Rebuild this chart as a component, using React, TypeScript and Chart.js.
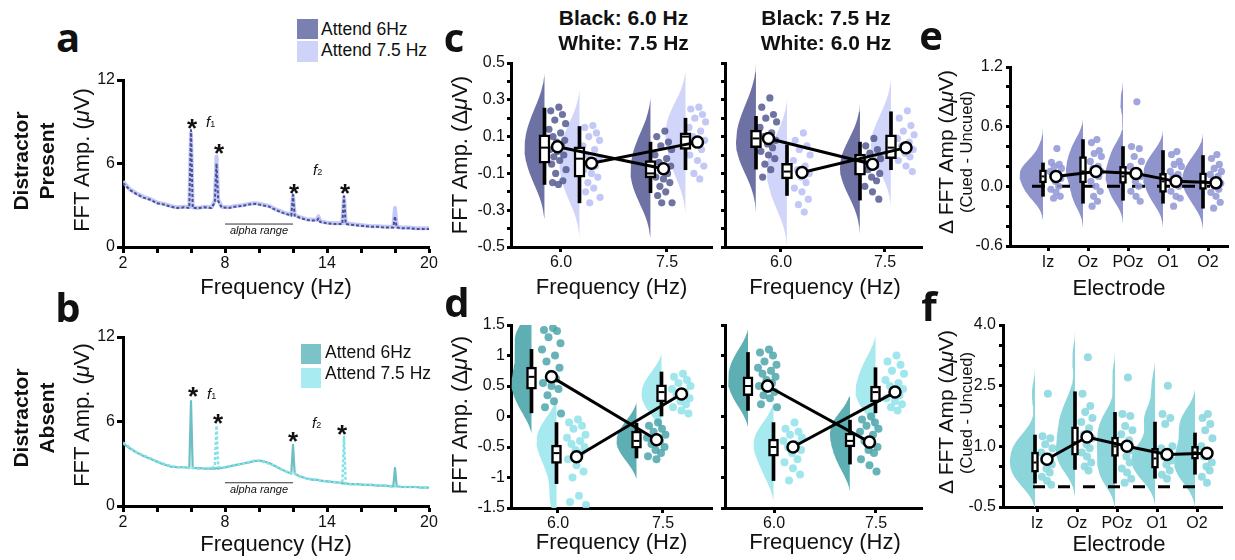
import React, { useEffect, useRef } from 'react';
import { Chart, registerables } from 'chart.js';

Chart.register(...registerables);

const FONT = '"Liberation Sans", Arial, Helvetica, sans-serif';
const LETTER_FONT = '"Open Sans", "Liberation Sans", sans-serif';
const INK = '#111';

// ---------------- Panels a / b : spectra ----------------
const SPEC_FREQ = [2, 2.4, 2.8, 3.2, 3.6, 4.0, 4.4, 4.8, 5.2, 5.6, 5.9, 6.0, 6.1, 6.4, 6.8, 7.2, 7.4, 7.5, 7.6, 7.8, 8.2, 8.6, 9.0, 9.4, 9.8, 10.2, 10.6, 11.0, 11.4, 11.8, 11.9, 12.0, 12.1, 12.4, 12.8, 13.2, 13.4, 13.5, 13.6, 14.0, 14.4, 14.8, 14.9, 15.0, 15.1, 15.4, 15.8, 16.2, 16.6, 17.0, 17.4, 17.8, 17.9, 18.0, 18.1, 18.4, 18.8, 19.2, 19.6, 20.0];
const A_ATTEND_6 = [4.6, 4.1, 3.8, 3.55, 3.4, 3.15, 3.05, 2.9, 2.8, 2.85, 2.8, 8.4, 2.8, 2.8, 2.85, 2.8, 3.2, 6.0, 3.3, 2.85, 2.8, 2.9, 2.95, 3.05, 3.1, 3.0, 2.9, 2.65, 2.45, 2.3, 2.25, 3.75, 2.25, 2.1, 1.95, 1.9, 1.9, 2.05, 1.8, 1.7, 1.65, 1.65, 1.65, 3.65, 1.65, 1.6, 1.55, 1.5, 1.45, 1.45, 1.4, 1.4, 1.4, 2.2, 1.4, 1.35, 1.35, 1.3, 1.3, 1.3];
const A_ATTEND_75 = [4.7, 4.15, 3.85, 3.6, 3.45, 3.2, 3.1, 2.95, 2.85, 2.9, 2.85, 8.2, 2.85, 2.8, 2.9, 2.85, 3.3, 6.5, 3.4, 2.9, 2.85, 2.95, 3.0, 3.1, 3.15, 3.05, 2.95, 2.7, 2.5, 2.35, 2.3, 3.7, 2.3, 2.15, 2.0, 1.95, 1.95, 2.2, 1.85, 1.75, 1.7, 1.7, 1.7, 3.6, 1.7, 1.65, 1.6, 1.55, 1.5, 1.5, 1.45, 1.45, 1.45, 2.8, 1.45, 1.4, 1.4, 1.35, 1.35, 1.35];
const B_ATTEND_6 = [4.45, 4.1, 3.8, 3.55, 3.35, 3.15, 2.95, 2.8, 2.75, 2.75, 2.7, 7.45, 2.7, 2.7, 2.65, 2.65, 2.65, 2.7, 2.65, 2.7, 2.8, 2.9, 3.0, 3.1, 3.2, 3.2, 3.05, 2.8, 2.55, 2.35, 2.3, 4.35, 2.3, 2.1, 1.95, 1.85, 1.85, 1.85, 1.8, 1.75, 1.7, 1.65, 1.6, 1.6, 1.6, 1.55, 1.55, 1.5, 1.5, 1.45, 1.45, 1.4, 1.4, 2.7, 1.4, 1.35, 1.35, 1.35, 1.3, 1.3];
const B_ATTEND_75 = [4.5, 4.15, 3.8, 3.6, 3.4, 3.15, 3.0, 2.85, 2.75, 2.75, 2.7, 2.75, 2.7, 2.65, 2.65, 2.7, 2.8, 5.7, 2.8, 2.7, 2.8, 2.9, 3.0, 3.1, 3.25, 3.15, 3.0, 2.8, 2.55, 2.35, 2.3, 2.3, 2.3, 2.1, 1.95, 1.9, 1.85, 1.85, 1.8, 1.75, 1.7, 1.65, 1.65, 4.9, 1.6, 1.55, 1.55, 1.5, 1.5, 1.45, 1.45, 1.4, 1.4, 1.4, 1.4, 1.35, 1.35, 1.35, 1.3, 1.3];
const ALPHA_RANGE_HZ = [8, 12];
const ALPHA_BAR_LEVEL = 1.65;
const SPEC_X_TICKS = [2, 4, 6, 8, 10, 12, 14, 16, 18, 20];
const SPEC_X_LABELED = [2, 8, 14, 20];
const SPEC_Y_TICKS = [0, 6, 12];

// ---------------- Panels c / d : rainclouds per frequency ----------------
const FREQ_TICKS = [6.0, 7.5];
const C_Y_TICKS = [-0.5, -0.4, -0.3, -0.2, -0.1, 0, 0.1, 0.2, 0.3, 0.4, 0.5];
const C_Y_LABELED = [-0.5, -0.3, -0.1, 0.1, 0.3, 0.5];
const D_Y_TICKS = [-1.5, -1, -0.5, 0, 0.5, 1, 1.5];

// box rows: [whisker low, q1, median, q3, whisker high]
const C1_DARK_60 = [0.26, 0.24, 0.22, 0.19, 0.17, 0.14, 0.12, 0.1, 0.08, 0.07, 0.05, 0.03, 0.02, 0.0, -0.01, -0.03, -0.05, -0.08, -0.1, -0.14, -0.15, -0.16];
const C1_DARK_75 = [0.13, 0.1, 0.07, 0.05, 0.03, 0.0, -0.02, -0.04, -0.06, -0.08, -0.1, -0.12, -0.13, -0.15, -0.17, -0.2, -0.22, -0.26, -0.26];
const C1_LIGHT_60 = [0.16, 0.15, 0.12, 0.1, 0.08, 0.05, 0.03, 0.0, -0.02, -0.04, -0.06, -0.08, -0.1, -0.12, -0.15, -0.18, -0.2, -0.23, -0.26];
const C1_LIGHT_75 = [0.26, 0.25, 0.22, 0.2, 0.18, 0.15, 0.13, 0.1, 0.08, 0.06, 0.03, 0.0, -0.03, -0.06, -0.1, -0.13];
const C1_DARK_BOX = [[-0.16, -0.045, 0.04, 0.11, 0.255], [-0.205, -0.125, -0.1, -0.03, 0.07]];
const C1_LIGHT_BOX = [[-0.26, -0.12, -0.02, 0.045, 0.155], [-0.08, 0.03, 0.1, 0.12, 0.2]];
const C1_DARK_MEAN = [0.045, -0.075];
const C1_LIGHT_MEAN = [-0.045, 0.07];

const C2_DARK_60 = [0.31, 0.26, 0.22, 0.2, 0.18, 0.15, 0.12, 0.1, 0.08, 0.06, 0.04, 0.02, 0.0, -0.02, -0.05, -0.08, -0.12];
const C2_DARK_75 = [0.09, 0.05, 0.03, 0.01, -0.02, -0.04, -0.06, -0.08, -0.1, -0.12, -0.14, -0.17, -0.2, -0.24];
const C2_LIGHT_60 = [0.12, 0.08, 0.05, 0.03, 0.0, -0.03, -0.06, -0.08, -0.1, -0.12, -0.15, -0.18, -0.2, -0.24, -0.27, -0.31];
const C2_LIGHT_75 = [0.24, 0.2, 0.16, 0.13, 0.11, 0.09, 0.07, 0.05, 0.03, 0.01, -0.01, -0.03, -0.06, -0.09];
const C2_DARK_BOX = [[-0.077, 0.04, 0.09, 0.135, 0.21], [-0.245, -0.11, -0.03, 0.005, 0.07]];
const C2_LIGHT_BOX = [[-0.22, -0.13, -0.09, -0.045, 0.055], [-0.08, -0.02, 0.04, 0.11, 0.235]];
const C2_DARK_MEAN = [0.09, -0.05];
const C2_LIGHT_MEAN = [-0.095, 0.04];

const D1_DARK_60 = [1.45, 1.42, 1.4, 1.3, 1.2, 1.1, 1.0, 0.9, 0.8, 0.7, 0.62, 0.55, 0.5, 0.45, 0.35, 0.25, 0.15, 0.05];
const D1_DARK_75 = [-0.1, -0.15, -0.2, -0.25, -0.3, -0.35, -0.4, -0.45, -0.5, -0.55, -0.6, -0.65, -0.7];
const D1_LIGHT_60 = [-0.05, -0.1, -0.15, -0.2, -0.3, -0.35, -0.4, -0.45, -0.5, -0.55, -0.6, -0.7, -0.8, -0.9, -1.0, -1.3, -1.4, -1.45];
const D1_LIGHT_75 = [0.7, 0.65, 0.6, 0.55, 0.5, 0.45, 0.4, 0.35, 0.3, 0.25, 0.2, 0.15, 0.1, 0.05];
const D1_DARK_BOX = [[0.06, 0.45, 0.65, 0.81, 1.1], [-0.68, -0.52, -0.4, -0.24, -0.11]];
const D1_LIGHT_BOX = [[-1.1, -0.77, -0.6, -0.47, -0.1], [0.0, 0.24, 0.4, 0.52, 0.73]];
const D1_DARK_MEAN = [0.65, -0.38];
const D1_LIGHT_MEAN = [-0.66, 0.37];

const D2_DARK_60 = [1.1, 1.05, 1.0, 0.9, 0.85, 0.8, 0.75, 0.7, 0.65, 0.6, 0.55, 0.5, 0.45, 0.4, 0.35, 0.3, 0.2, 0.15];
const D2_DARK_75 = [0.0, -0.05, -0.1, -0.15, -0.2, -0.25, -0.3, -0.4, -0.5, -0.55, -0.6, -0.7, -0.8, -0.9];
const D2_LIGHT_60 = [-0.1, -0.2, -0.25, -0.3, -0.35, -0.4, -0.45, -0.5, -0.55, -0.6, -0.7, -0.75, -0.85, -0.95, -1.05];
const D2_LIGHT_75 = [1.0, 0.9, 0.85, 0.75, 0.7, 0.6, 0.55, 0.5, 0.45, 0.4, 0.35, 0.3, 0.25, 0.2, 0.15, 0.1];
const D2_DARK_BOX = [[0.1, 0.34, 0.5, 0.65, 1.05], [-0.78, -0.5, -0.4, -0.27, -0.06]];
const D2_LIGHT_BOX = [[-1.05, -0.65, -0.5, -0.37, -0.1], [0.06, 0.24, 0.4, 0.5, 0.8]];
const D2_DARK_MEAN = [0.5, -0.42];
const D2_LIGHT_MEAN = [-0.5, 0.4];

// ---------------- Panels e / f : rainclouds per electrode ----------------
const ELECTRODES = ['Iz', 'Oz', 'POz', 'O1', 'O2'];
const E_Y_TICKS = [-0.6, -0.4, -0.2, 0, 0.2, 0.4, 0.6, 0.8, 1.0, 1.2];
const E_Y_LABELED = [-0.6, 0, 0.6, 1.2];
const F_Y_TICKS = [-0.5, 0, 0.5, 1, 1.5, 2, 2.5, 3, 3.5, 4];
const F_Y_LABELED = [-0.5, 1, 2.5, 4];

const E_IZ = [0.38, 0.24, 0.22, 0.2, 0.18, 0.15, 0.12, 0.1, 0.08, 0.05, 0.0, -0.03, -0.06, -0.1, -0.12];
const E_OZ = [0.47, 0.44, 0.36, 0.33, 0.3, 0.25, 0.2, 0.18, 0.15, 0.12, 0.1, 0.05, 0.0, -0.05, -0.1, -0.15, -0.2];
const E_POZ = [0.85, 0.4, 0.38, 0.3, 0.25, 0.2, 0.15, 0.12, 0.1, 0.05, 0.0, -0.05, -0.1, -0.15];
const E_O1 = [0.35, 0.32, 0.25, 0.22, 0.2, 0.15, 0.12, 0.1, 0.06, 0.03, 0.0, -0.05, -0.1, -0.12, -0.2];
const E_O2 = [0.32, 0.28, 0.22, 0.18, 0.15, 0.12, 0.1, 0.06, 0.03, 0.0, -0.03, -0.06, -0.1, -0.16, -0.22];
const E_BOX = [[-0.1, 0.035, 0.1, 0.165, 0.235], [-0.17, 0.035, 0.15, 0.3, 0.47], [-0.14, 0.03, 0.1, 0.2, 0.4], [-0.17, -0.06, 0.05, 0.13, 0.36], [-0.22, -0.03, 0.05, 0.135, 0.31]];
const E_MEAN = [0.1, 0.15, 0.13, 0.05, 0.035];

const F_IZ = [2.3, 1.25, 1.2, 1.05, 0.95, 0.85, 0.75, 0.65, 0.55, 0.45, 0.35, 0.25, 0.15, 0.05];
const F_OZ = [3.2, 2.3, 2.0, 1.85, 1.7, 1.6, 1.45, 1.3, 1.2, 1.05, 0.95, 0.85, 0.75, 0.6, 0.5, 0.4];
const F_POZ = [2.7, 1.8, 1.75, 1.5, 1.4, 1.3, 1.15, 1.0, 0.9, 0.75, 0.6, 0.45, 0.35, 0.2, 0.1];
const F_O1 = [2.5, 1.8, 1.7, 1.55, 1.0, 0.95, 0.85, 0.75, 0.65, 0.55, 0.4, 0.3, 0.2];
const F_O2 = [1.8, 1.7, 1.55, 1.4, 1.2, 1.0, 0.85, 0.75, 0.6, 0.5, 0.4, 0.25, 0.1];
const F_BOX = [[0.09, 0.36, 0.6, 0.86, 1.28], [0.43, 0.78, 1.1, 1.48, 2.35], [0.09, 0.75, 1.0, 1.23, 1.84], [0.21, 0.46, 0.7, 0.95, 1.6], [0.31, 0.68, 0.85, 1.0, 1.33]];
const F_MEAN = [0.68, 1.23, 1.0, 0.8, 0.83];
const ZERO_LINE_SPAN_E = [-0.4, 4.05];
const ZERO_LINE_SPAN_F = [-0.1, 4.1];

// deterministic horizontal scatter pattern for the dots (layout only)
const JITTER = [0.15, -0.75, 0.55, -0.3, 0.9, -0.95, 0.35, -0.5, 0.8, -0.1, 0.45, -0.85, 0.0, 0.7, -0.4, 0.25, -0.65, 0.95, -0.2, 0.6, -0.55, 0.1, -0.9, 0.4];

// ---------------- layout ----------------
type Box = { l: number; t: number; r: number; b: number };
const YW = 60, XH = 40, PT = 14, PR = 16;

const has = (arr: number[], v: number) => arr.some((a) => Math.abs(a - v) < 1e-6);

function yAxis(min: number, max: number, ticks: number[], fmt: (v: number) => string, tickLen: number, pad: number) {
  return {
    type: 'linear', min, max,
    afterFit: (s: any) => { s.width = YW; },
    afterBuildTicks: (s: any) => { s.ticks = ticks.map((v) => ({ value: v })); },
    ticks: { autoSkip: false, callback: (v: any) => fmt(Number(v)), color: INK, padding: pad, font: { family: FONT, size: 16 } },
    grid: { display: true, drawOnChartArea: false, drawTicks: true, tickLength: tickLen, tickWidth: 3, tickColor: '#000', color: '#000' },
    border: { display: true, width: 3, color: '#000' },
    title: { display: false },
  };
}
function xAxis(min: number, max: number, ticks: number[], fmt: (v: number) => string, tickLen: number, pad: number) {
  return {
    type: 'linear', min, max, offset: false,
    afterFit: (s: any) => { s.height = XH; },
    afterBuildTicks: (s: any) => { s.ticks = ticks.map((v) => ({ value: v })); },
    ticks: { autoSkip: false, maxRotation: 0, callback: (v: any) => fmt(Number(v)), color: INK, padding: pad, font: { family: FONT, size: 16 } },
    grid: { display: true, drawOnChartArea: false, drawTicks: true, tickLength: tickLen, tickWidth: 3, tickColor: '#000', color: '#000', offset: false },
    border: { display: true, width: 3, color: '#000' },
    title: { display: false },
  };
}
function baseOptions(x: any, y: any) {
  return {
    responsive: false, maintainAspectRatio: false, animation: false, devicePixelRatio: 1, events: [],
    layout: { padding: { top: PT, right: PR, left: 0, bottom: 0 } },
    plugins: { legend: { display: false }, tooltip: { enabled: false }, title: { display: false } },
    scales: { x, y },
  };
}

// ---------------- spectra ----------------
function spectrumConfig(att6: number[], att75: number[], teal: boolean) {
  const d6 = SPEC_FREQ.map((f, i) => ({ x: f, y: att6[i] }));
  const d75 = SPEC_FREQ.map((f, i) => ({ x: f, y: att75[i] }));
  const alpha = ALPHA_RANGE_HZ.map((f) => ({ x: f, y: ALPHA_BAR_LEVEL }));
  const datasets: any[] = teal
    ? [
        { type: 'line', data: d6, borderColor: '#6cbfc3', borderWidth: 2.2, pointRadius: 0, borderJoinStyle: 'round', order: 3 },
        { type: 'line', data: d75, borderColor: '#86e2ea', borderWidth: 2.5, borderDash: [3, 2], pointRadius: 0, borderJoinStyle: 'round', order: 2 },
      ]
    : [
        { type: 'line', data: d75, borderColor: '#c3c8f7', borderWidth: 4, pointRadius: 0, borderJoinStyle: 'round', order: 3 },
        { type: 'line', data: d6, borderColor: '#4a5090', borderWidth: 2, borderDash: [3, 2], pointRadius: 0, borderJoinStyle: 'round', order: 2 },
      ];
  datasets.push({ type: 'line', data: alpha, borderColor: '#333', borderWidth: 1, pointRadius: 0, order: 1 });
  return {
    type: 'scatter',
    data: { datasets },
    options: baseOptions(
      xAxis(2, 20, SPEC_X_TICKS, (v) => (has(SPEC_X_LABELED, v) ? String(v) : ''), 6, 1),
      yAxis(0, 12, SPEC_Y_TICKS, (v) => String(v), 6, 2),
    ),
  };
}

// ---------------- rainclouds ----------------
type Cloud = { boxX: number; meanX: number; values: number[]; stats: number[]; violin: string; dot: string };
type CloudStyle = { h: number; tail: number; widthPx: number | null; areaK: number; boxW: number; dotR: number; jitterPx: number };

function kde(values: number[], h: number, y: number) {
  let s = 0;
  for (const v of values) { const z = (y - v) / h; s += Math.exp(-0.5 * z * z); }
  return s / (values.length * h * Math.sqrt(2 * Math.PI));
}
function violinOutline(values: number[], baseX: number, ppu: number, st: CloudStyle) {
  const h = st.h;
  const lo = Math.min(...values) - st.tail * h;
  const hi = Math.max(...values) + st.tail * h;
  const n = 70;
  const ys: number[] = [];
  const dens: number[] = [];
  for (let i = 0; i <= n; i++) { const y = hi - ((hi - lo) * i) / n; ys.push(y); dens.push(kde(values, h, y)); }
  const peak = Math.max(...dens);
  const floor = Math.min(dens[0], dens[n]);
  const pts = [{ x: baseX, y: hi }];
  ys.forEach((y, i) => {
    const d = Math.max(dens[i] - floor, 0);
    const wPx = st.widthPx != null ? (d / (peak - floor)) * st.widthPx : d * st.areaK;
    pts.push({ x: baseX - wPx / ppu, y });
  });
  pts.push({ x: baseX, y: lo });
  return pts;
}
function cloudDatasets(clouds: Cloud[], ppu: number, st: CloudStyle) {
  const ds: any[] = [];
  clouds.forEach((c) => ds.push({ type: 'line', data: violinOutline(c.values, c.boxX, ppu, st), fill: 'shape', backgroundColor: c.violin, borderWidth: 0, pointRadius: 0, tension: 0, order: 10 }));
  clouds.forEach((c) => ds.push({
    type: 'scatter',
    data: c.values.map((v, i) => ({ x: c.meanX + (JITTER[i % JITTER.length] * st.jitterPx) / ppu, y: v })),
    backgroundColor: c.dot, pointBackgroundColor: c.dot, borderWidth: 0, pointBorderWidth: 0, pointRadius: st.dotR, order: 8,
  }));
  ds.push({ type: 'bar', data: clouds.map((c) => ({ x: c.boxX, y: [c.stats[0], c.stats[4]] })), backgroundColor: '#000', borderWidth: 0, barThickness: 3, grouped: false, order: 6 });
  ds.push({ type: 'bar', data: clouds.map((c) => ({ x: c.boxX, y: [c.stats[1], c.stats[3]] })), backgroundColor: '#fff', borderColor: '#000', borderWidth: 2.5, borderSkipped: false, barThickness: st.boxW, grouped: false, order: 5 });
  ds.push({ type: 'scatter', data: clouds.map((c) => ({ x: c.boxX, y: c.stats[2] })), pointStyle: 'line', pointRadius: st.boxW / 2 - 2, borderColor: '#000', pointBorderColor: '#000', pointBorderWidth: 2, borderWidth: 2, order: 4 });
  return ds;
}
function meanLine(points: { x: number; y: number }[]) {
  return { type: 'line', data: points, showLine: true, fill: false, borderColor: '#000', borderWidth: 3, tension: 0, pointRadius: 5.5, pointBackgroundColor: '#fff', pointBorderColor: '#000', pointBorderWidth: 2.5, order: 1 };
}

type FreqPanel = { dark: number[][]; light: number[][]; darkBox: number[][]; lightBox: number[][]; darkMean: number[]; lightMean: number[] };
type FreqLayout = {
  box: Box; xMin: number; xMax: number; off: number[]; yMin: number; yMax: number; yTicks: number[]; fmt: (v: number) => string;
  darkViolin: string; lightViolin: string; darkDot: string; lightDot: string; style: CloudStyle;
};
function freqPanelConfig(p: FreqPanel, L: FreqLayout) {
  const ppu = (L.box.r - L.box.l) / (L.xMax - L.xMin);
  const [oDB, oDM, oLB, oLM] = L.off.map((o) => o / ppu);
  const clouds: Cloud[] = [];
  FREQ_TICKS.forEach((f, g) => {
    clouds.push({ boxX: f + oDB, meanX: f + oDM, values: p.dark[g], stats: p.darkBox[g], violin: L.darkViolin, dot: L.darkDot });
    clouds.push({ boxX: f + oLB, meanX: f + oLM, values: p.light[g], stats: p.lightBox[g], violin: L.lightViolin, dot: L.lightDot });
  });
  const ds = cloudDatasets(clouds, ppu, L.style);
  ds.push(meanLine(FREQ_TICKS.map((f, g) => ({ x: f + oDM, y: p.darkMean[g] }))));
  ds.push(meanLine(FREQ_TICKS.map((f, g) => ({ x: f + oLM, y: p.lightMean[g] }))));
  return {
    type: 'scatter',
    data: { datasets: ds },
    options: baseOptions(
      xAxis(L.xMin, L.xMax, FREQ_TICKS, (v) => v.toFixed(1), 5, 1),
      yAxis(L.yMin, L.yMax, L.yTicks, L.fmt, 4, 2),
    ),
  };
}

type ElecLayout = { box: Box; xMin: number; xMax: number; off: number[]; yMin: number; yMax: number; yTicks: number[]; fmt: (v: number) => string; violin: string; dot: string; style: CloudStyle; zero: number[]; dash: number[] };
function elecPanelConfig(values: number[][], boxes: number[][], means: number[], L: ElecLayout) {
  const ppu = (L.box.r - L.box.l) / (L.xMax - L.xMin);
  const [oB, oM] = L.off.map((o) => o / ppu);
  const clouds: Cloud[] = ELECTRODES.map((_, i) => ({ boxX: i + oB, meanX: i + oM, values: values[i], stats: boxes[i], violin: L.violin, dot: L.dot }));
  const ds = cloudDatasets(clouds, ppu, L.style);
  ds.push({ type: 'line', data: L.zero.map((x) => ({ x, y: 0 })), borderColor: '#000', borderWidth: 3, borderDash: L.dash, pointRadius: 0, order: 9 });
  ds.push(meanLine(ELECTRODES.map((_, i) => ({ x: i + oM, y: means[i] }))));
  return {
    type: 'scatter',
    data: { datasets: ds },
    options: baseOptions(
      xAxis(L.xMin, L.xMax, ELECTRODES.map((_, i) => i), (v) => ELECTRODES[Math.round(v)] ?? '', 5, 2),
      yAxis(L.yMin, L.yMax, L.yTicks, L.fmt, 4, 3),
    ),
  };
}

// ---------------- layout instances ----------------
const BOX_A: Box = { l: 123, t: 80, r: 429, b: 247 };
const BOX_B: Box = { l: 123, t: 337, r: 429, b: 506 };
const BOX_C1: Box = { l: 511, t: 63, r: 712, b: 247 };
const BOX_C2: Box = { l: 725, t: 63, r: 922, b: 247 };
const BOX_D1: Box = { l: 511, t: 325, r: 712, b: 508 };
const BOX_D2: Box = { l: 725, t: 325, r: 922, b: 508 };
const BOX_E: Box = { l: 1010, t: 67, r: 1228, b: 246 };
const BOX_F: Box = { l: 1003, t: 325, r: 1222, b: 507 };

const fmtC = (v: number) => (has(C_Y_LABELED, v) ? v.toFixed(1) : '');
const fmtNone = () => '';
const fmtD = (v: number) => String(Math.round(v * 10) / 10);
const C_STYLE: CloudStyle = { h: 0.1, tail: 1.9, widthPx: 20, areaK: 0, boxW: 11, dotR: 3.6, jitterPx: 9 };
const D_STYLE: CloudStyle = { h: 0.22, tail: 1.5, widthPx: 20, areaK: 0, boxW: 10, dotR: 4, jitterPx: 10 };
const C_COL = { darkViolin: '#6d71a4', lightViolin: '#d1d5f9', darkDot: 'rgba(86,91,146,0.85)', lightDot: 'rgba(188,194,245,0.9)' };
const D_COL = { darkViolin: '#5dafb3', lightViolin: '#a6e9ee', darkDot: 'rgba(78,166,171,0.85)', lightDot: 'rgba(150,228,235,0.9)' };

const L_C1: FreqLayout = { box: BOX_C1, xMin: 5.2925, xMax: 8.1368, off: [-16.5, -3.5, 18.5, 30.5], yMin: -0.5, yMax: 0.5, yTicks: C_Y_TICKS, fmt: fmtC, ...C_COL, style: C_STYLE };
const L_C2: FreqLayout = { box: BOX_C2, xMin: 5.1923, xMax: 8.0337, off: [-25, -12.5, 6, 21], yMin: -0.5, yMax: 0.5, yTicks: C_Y_TICKS, fmt: fmtNone, ...C_COL, style: C_STYLE };
const L_D1: FreqLayout = { box: BOX_D1, xMin: 5.3286, xMax: 8.2, off: [-26.5, -6.5, -1.5, 18.5], yMin: -1.5, yMax: 1.5, yTicks: D_Y_TICKS, fmt: fmtD, ...D_COL, style: D_STYLE };
const L_D2: FreqLayout = { box: BOX_D2, xMin: 5.2794, xMax: 8.1765, off: [-26, -6.5, -0.5, 19], yMin: -1.5, yMax: 1.5, yTicks: D_Y_TICKS, fmt: fmtNone, ...D_COL, style: D_STYLE };
const L_E: ElecLayout = {
  box: BOX_E, xMin: -0.95, xMax: 4.5, off: [-5, 8], yMin: -0.6, yMax: 1.2, yTicks: E_Y_TICKS, fmt: (v) => (has(E_Y_LABELED, v) ? v.toFixed(1) : ''),
  violin: '#8f94cc', dot: 'rgba(150,156,216,0.9)', style: { h: 0.1, tail: 2.1, widthPx: null, areaK: 10.5, boxW: 7, dotR: 3.6, jitterPx: 6 }, zero: ZERO_LINE_SPAN_E, dash: [13, 12],
};
const L_F: ElecLayout = {
  box: BOX_F, xMin: -0.85, xMax: 4.625, off: [-2, 10], yMin: -0.5, yMax: 4.0, yTicks: F_Y_TICKS, fmt: (v) => (has(F_Y_LABELED, v) ? v.toFixed(1) : ''),
  violin: '#8cd5da', dot: 'rgba(142,217,223,0.92)', style: { h: 0.3, tail: 2.1, widthPx: null, areaK: 37, boxW: 7, dotR: 4, jitterPx: 6 }, zero: ZERO_LINE_SPAN_F, dash: [12, 13],
};

// ---------------- components ----------------
function ChartCanvas({ box, make }: { box: Box; make: () => any }) {
  const ref = useRef<HTMLCanvasElement | null>(null);
  const w = box.r - box.l + YW + PR;
  const h = box.b - box.t + PT + XH;
  useEffect(() => {
    if (!ref.current) return;
    const chart = new Chart(ref.current, make());
    return () => chart.destroy();
  }, []);
  return <canvas ref={ref} width={w} height={h} style={{ position: 'absolute', left: box.l - YW, top: box.t - PT, width: w, height: h }} />;
}

type TProps = { x: number; y: number; size: number; children: React.ReactNode; weight?: number; italic?: boolean; family?: string; k?: number; align?: 'center' | 'left'; color?: string };
function T({ x, y, size, children, weight = 400, italic = false, family = FONT, k = 0.8465, align = 'center', color = INK }: TProps) {
  return (
    <div style={{ position: 'absolute', left: x, top: y - k * size, fontSize: size, lineHeight: `${size}px`, fontFamily: family, fontWeight: weight, fontStyle: italic ? 'italic' : 'normal', whiteSpace: 'nowrap', color, transform: align === 'center' ? 'translateX(-50%)' : undefined }}>
      {children}
    </div>
  );
}
function R({ cx, cy, size, children, weight = 400, lh }: { cx: number; cy: number; size: number; children: React.ReactNode; weight?: number; lh?: number }) {
  return (
    <div style={{ position: 'absolute', left: cx, top: cy, fontSize: size, lineHeight: `${lh ?? size}px`, fontFamily: FONT, fontWeight: weight, whiteSpace: 'nowrap', textAlign: 'center', color: INK, transform: 'translate(-50%, -50%) rotate(-90deg)' }}>
      {children}
    </div>
  );
}
function Swatch({ x, y, w, h, color }: { x: number; y: number; w: number; h: number; color: string }) {
  return <div style={{ position: 'absolute', left: x, top: y, width: w, height: h, background: color }} />;
}
const Star = ({ cx, cy }: { cx: number; cy: number }) => <T x={cx} y={cy + 15} size={26} weight={700}>*</T>;
const FSub = ({ x, y, n }: { x: number; y: number; n: string }) => (
  <T x={x} y={y} size={15} italic align="left">f<span style={{ fontSize: 9, fontStyle: 'normal' }}>{n}</span></T>
);
const Letter = ({ x, y, ch }: { x: number; y: number; ch: string }) => <T x={x} y={y} size={40} weight={700} family={LETTER_FONT} k={0.888}>{ch}</T>;

export default function App() {
  return (
    <div style={{ position: 'absolute', left: 0, top: 0, width: 1235, height: 560, background: '#fff', overflow: 'hidden', fontFamily: FONT, color: INK }}>
      <ChartCanvas box={BOX_A} make={() => spectrumConfig(A_ATTEND_6, A_ATTEND_75, false)} />
      <ChartCanvas box={BOX_B} make={() => spectrumConfig(B_ATTEND_6, B_ATTEND_75, true)} />
      <ChartCanvas box={BOX_C1} make={() => freqPanelConfig({ dark: [C1_DARK_60, C1_DARK_75], light: [C1_LIGHT_60, C1_LIGHT_75], darkBox: C1_DARK_BOX, lightBox: C1_LIGHT_BOX, darkMean: C1_DARK_MEAN, lightMean: C1_LIGHT_MEAN }, L_C1)} />
      <ChartCanvas box={BOX_C2} make={() => freqPanelConfig({ dark: [C2_DARK_60, C2_DARK_75], light: [C2_LIGHT_60, C2_LIGHT_75], darkBox: C2_DARK_BOX, lightBox: C2_LIGHT_BOX, darkMean: C2_DARK_MEAN, lightMean: C2_LIGHT_MEAN }, L_C2)} />
      <ChartCanvas box={BOX_D1} make={() => freqPanelConfig({ dark: [D1_DARK_60, D1_DARK_75], light: [D1_LIGHT_60, D1_LIGHT_75], darkBox: D1_DARK_BOX, lightBox: D1_LIGHT_BOX, darkMean: D1_DARK_MEAN, lightMean: D1_LIGHT_MEAN }, L_D1)} />
      <ChartCanvas box={BOX_D2} make={() => freqPanelConfig({ dark: [D2_DARK_60, D2_DARK_75], light: [D2_LIGHT_60, D2_LIGHT_75], darkBox: D2_DARK_BOX, lightBox: D2_LIGHT_BOX, darkMean: D2_DARK_MEAN, lightMean: D2_LIGHT_MEAN }, L_D2)} />
      <ChartCanvas box={BOX_E} make={() => elecPanelConfig([E_IZ, E_OZ, E_POZ, E_O1, E_O2], E_BOX, E_MEAN, L_E)} />
      <ChartCanvas box={BOX_F} make={() => elecPanelConfig([F_IZ, F_OZ, F_POZ, F_O1, F_O2], F_BOX, F_MEAN, L_F)} />

      {/* panel letters */}
      <Letter x={68} y={53} ch="a" />
      <Letter x={68} y={323} ch="b" />
      <Letter x={454} y={53} ch="c" />
      <Letter x={457} y={318} ch="d" />
      <Letter x={931} y={51} ch="e" />
      <Letter x={929} y={322} ch="f" />

      {/* row labels */}
      <R cx={33.5} cy={161} size={21} weight={700} lh={26}>Distractor<br />Present</R>
      <R cx={33.5} cy={418} size={21} weight={700} lh={26}>Distractor<br />Absent</R>

      {/* panel a / b axis titles */}
      <R cx={82} cy={160} size={22}>FFT Amp. (<i>μ</i>V)</R>
      <R cx={82} cy={415} size={22}>FFT Amp. (<i>μ</i>V)</R>
      <T x={276} y={295} size={22}>Frequency (Hz)</T>
      <T x={276} y={552} size={22}>Frequency (Hz)</T>

      {/* legends */}
      <Swatch x={297} y={19} w={21} h={20} color="#7b80b2" />
      <Swatch x={297} y={41} w={21} h={21} color="#cfd3f8" />
      <T x={321} y={35.5} size={17.5} align="left">Attend 6Hz</T>
      <T x={321} y={57} size={17.5} align="left">Attend 7.5 Hz</T>
      <Swatch x={301} y={344} w={20} h={20} color="#7cc3c7" />
      <Swatch x={301} y={368} w={20} h={20} color="#a8ecf1" />
      <T x={325} y={359} size={17.5} align="left">Attend 6Hz</T>
      <T x={325} y={380} size={17.5} align="left">Attend 7.5 Hz</T>

      {/* spectrum annotations */}
      <Star cx={192} cy={122} /><Star cx={219} cy={147} /><Star cx={294} cy={187} /><Star cx={345} cy={187} />
      <FSub x={206} y={127} n="1" /><FSub x={313} y={175} n="2" />
      <T x={259} y={234} size={11} italic>alpha range</T>
      <Star cx={193} cy={390} /><Star cx={218} cy={417} /><Star cx={293} cy={435} /><Star cx={342} cy={428} />
      <FSub x={207} y={399} n="1" /><FSub x={312} y={428} n="2" />
      <T x={259} y={493} size={11} italic>alpha range</T>

      {/* panel c titles */}
      <T x={623.5} y={25} size={21} weight={700}>Black: 6.0 Hz</T>
      <T x={623.5} y={50} size={21} weight={700}>White: 7.5 Hz</T>
      <T x={826} y={25} size={21} weight={700}>Black: 7.5 Hz</T>
      <T x={826} y={50} size={21} weight={700}>White: 6.0 Hz</T>

      {/* c / d axis titles */}
      <R cx={460} cy={155} size={22}>FFT Amp. (Δ<i>μ</i>V)</R>
      <R cx={460} cy={415} size={22}>FFT Amp. (Δ<i>μ</i>V)</R>
      <T x={611.5} y={295} size={22}>Frequency (Hz)</T>
      <T x={825} y={295} size={22}>Frequency (Hz)</T>
      <T x={611.5} y={550} size={22}>Frequency (Hz)</T>
      <T x={825} y={550} size={22}>Frequency (Hz)</T>

      {/* e / f axis titles */}
      <R cx={945} cy={152} size={21}>Δ FFT Amp (Δ<i>μ</i>V)</R>
      <R cx={966} cy={152} size={16.5}>(Cued - Uncued)</R>
      <R cx={945} cy={412} size={21}>Δ FFT Amp (Δ<i>μ</i>V)</R>
      <R cx={966} cy={413} size={16.5}>(Cued - Uncued)</R>
      <T x={1119} y={296} size={22}>Electrode</T>
      <T x={1119} y={552} size={22}>Electrode</T>
    </div>
  );
}
